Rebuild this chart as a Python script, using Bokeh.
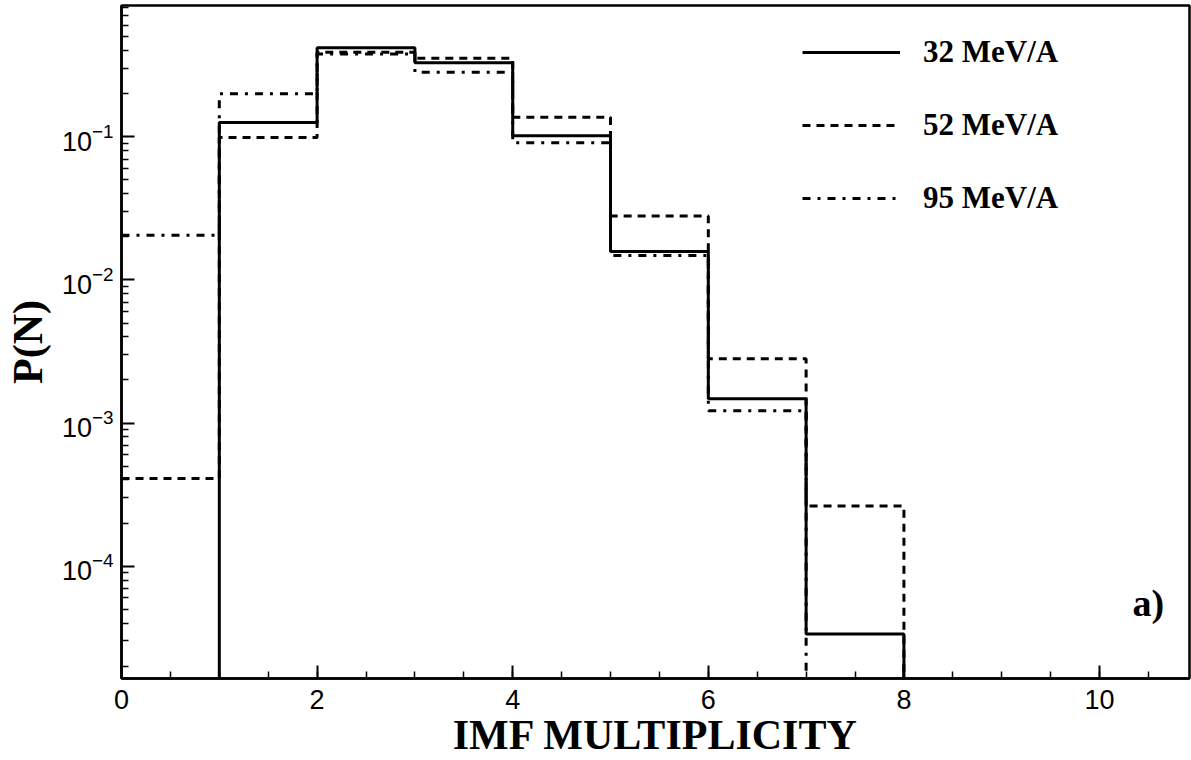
from bokeh.plotting import figure
from bokeh.models import Legend, LegendItem, Label, FixedTicker, Range1d
from bokeh.embed import file_html
from bokeh.resources import INLINE

# ---- data ----
bin_lo = [0, 1, 2, 3, 4, 5, 6, 7]
p32 = [0.0, 0.126, 0.42, 0.33, 0.102, 0.0158, 0.00148, 3.35e-5]
p52 = [4.1e-4, 0.099, 0.39, 0.354, 0.137, 0.028, 0.00281, 2.63e-4]
p95 = [0.0205, 0.20, 0.38, 0.283, 0.091, 0.0148, 0.00122, 0.0]
labels = ["32 MeV/A", "52 MeV/A", "95 MeV/A"]
x_major = [0, 2, 4, 6, 8, 10]
y_major = [1e-4, 1e-3, 1e-2, 1e-1]

FLOOR = 1e-7


def hist_outline(vals):
    idx = [i for i, v in enumerate(vals) if v > 0]
    first, last = idx[0], idx[-1]
    xs, ys = [], []
    if bin_lo[first] > 0:
        xs.append(bin_lo[first]); ys.append(FLOOR)
    for i in range(first, last + 1):
        xs += [bin_lo[i], bin_lo[i] + 1]
        ys += [vals[i], vals[i]]
    xs.append(bin_lo[last] + 1); ys.append(FLOOR)
    return xs, ys


p = figure(width=1191, height=760, output_backend="svg", toolbar_location=None,
           y_axis_type="log",
           x_range=Range1d(0, 10.92), y_range=Range1d(1.64e-5, 0.828),
           min_border_left=121, min_border_right=2, min_border_top=5,
           min_border_bottom=80)

p.background_fill_color = "white"
p.border_fill_color = "white"
p.outline_line_color = "black"
p.outline_line_width = 2.5
p.xgrid.visible = False
p.ygrid.visible = False

serif = "Liberation Serif"
sans = "Liberation Sans"

# x axis
p.xaxis.ticker = FixedTicker(ticks=x_major, minor_ticks=[0.5 * i for i in range(22)])
p.xaxis.axis_label = "IMF MULTIPLICITY"
p.xaxis.axis_label_text_font = serif
p.xaxis.axis_label_text_font_style = "bold"
p.xaxis.axis_label_text_font_size = "42px"
p.xaxis.axis_label_standoff = 0

# y axis
minor_y = [m * 10.0 ** e for e in range(-5, 0) for m in range(2, 10)]
p.yaxis.ticker = FixedTicker(ticks=y_major, minor_ticks=minor_y)
p.yaxis.axis_label = "P(N)"
p.yaxis.axis_label_text_font = serif
p.yaxis.axis_label_text_font_style = "bold"
p.yaxis.axis_label_text_font_size = "42px"
p.yaxis.axis_label_standoff = 8

for ax in (p.xaxis, p.yaxis):
    ax.axis_line_color = "black"
    ax.axis_line_width = 2.5
    ax.major_tick_in = 13
    ax.major_tick_out = 0
    ax.minor_tick_in = 7
    ax.minor_tick_out = 0
    ax.major_tick_line_width = 2
    ax.minor_tick_line_width = 1.5
    ax.major_tick_line_color = "black"
    ax.minor_tick_line_color = "black"
    ax.major_label_text_font = sans
    ax.major_label_text_font_size = "27px"
    ax.major_label_text_color = "black"
    ax.axis_label_text_color = "black"
p.xaxis.major_label_standoff = 11
p.yaxis.major_label_standoff = 8

styles = [dict(line_dash="solid"), dict(line_dash="8 6"), dict(line_dash="8 7 3 7")]
renderers = []
for vals, st in zip([p32, p52, p95], styles):
    xs, ys = hist_outline(vals)
    r = p.line(xs, ys, line_color="black", line_width=3, **st)
    renderers.append(r)

legend = Legend(items=[LegendItem(label=l, renderers=[r]) for l, r in zip(labels, renderers)],
                location=(681, 462), glyph_width=98, glyph_height=30, label_height=30,
                label_standoff=23, spacing=37, padding=0, margin=0,
                border_line_color=None, background_fill_alpha=0,
                label_text_font=serif, label_text_font_style="bold",
                label_text_font_size="31px", label_text_color="black")
p.add_layout(legend)

p.add_layout(Label(x=10.66, y=3.95e-5, text="a)", text_align="right",
                   text_font=serif, text_font_style="bold", text_font_size="38px",
                   text_color="black"))

open("out.html", "w").write(file_html(p, INLINE))
